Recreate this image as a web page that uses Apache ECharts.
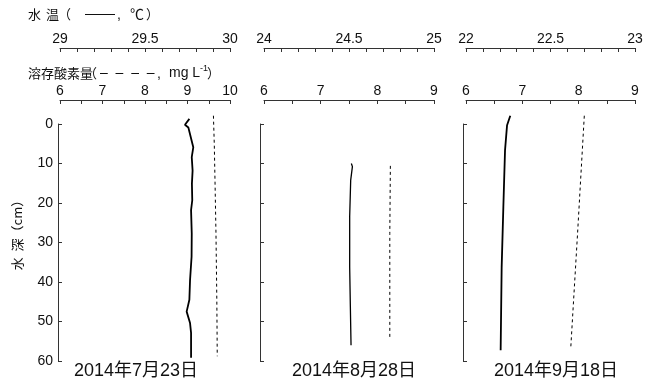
<!DOCTYPE html>
<html>
<head>
<meta charset="utf-8">
<script src="https://cdn.jsdelivr.net/npm/echarts@6/dist/echarts.min.js"></script>
<style>
  html, body { margin: 0; padding: 0; background: #fff; }
  #chart { width: 648px; height: 381px; }
</style>
</head>
<body>
<div id="chart"></div>
<script>
// Depth profiles of water temperature (solid) and dissolved oxygen (dashed)
const dates = ['2014年7月23日', '2014年8月28日', '2014年9月18日'];

// 2014-07-23
const julDepthT = [-1.3, 0.2, 0.9, 5.9, 8.4, 11.8, 15.1, 19.3, 21.8, 27.7, 33.6, 39.5, 44.5, 47.5, 50.4, 52.9, 59.2];
const julTemp   = [29.761, 29.735, 29.755, 29.784, 29.775, 29.780, 29.776, 29.778, 29.771, 29.775, 29.774, 29.765, 29.761, 29.745, 29.765, 29.771, 29.771];
const julDepthDO = [-2.1, 5.0, 16.0, 27.7, 44.5, 58.8];
const julDO      = [9.61, 9.63, 9.65, 9.67, 9.69, 9.70];

// 2014-08-28
const augDepthT = [10.0, 10.8, 14.2, 23.5, 36.2, 46.3, 56.0];
const augTemp   = [24.514, 24.520, 24.510, 24.504, 24.504, 24.508, 24.512];
const augDepthDO = [10.6, 27.7, 53.9];
const augDO      = [8.23, 8.22, 8.22];

// 2014-09-18
const sepDepthT = [-2.1, 0.3, 6.6, 21.0, 36.3, 57.3];
const sepTemp   = [22.262, 22.243, 22.231, 22.221, 22.211, 22.205];
const sepDepthDO = [-2.1, 27.8, 56.6];
const sepDO      = [8.10, 7.98, 7.86];

// axis ranges per panel
const tempRanges = [[29, 30], [24, 25], [22, 23]];
const doRanges   = [[6, 10], [6, 9], [6, 9]];

const panels = [
  { depthT: julDepthT, temp: julTemp, depthDO: julDepthDO, dO: julDO, tw: 1.8 },
  { depthT: augDepthT, temp: augTemp, depthDO: augDepthDO, dO: augDO, tw: 1.3 },
  { depthT: sepDepthT, temp: sepTemp, depthDO: sepDepthDO, dO: sepDO, tw: 1.8 }
];

const FONT = 'Liberation Sans';
const CJK = '"Noto Sans CJK JP", sans-serif';
const MIX = '"Liberation Sans", "Noto Sans CJK JP", sans-serif';
const AX = '#333';

const gridLeft = [60, 264, 466];
const gridWidth = [170, 170, 169];
const gridTop = 124;
const gridHeight = 237;
const yOffset = [2, 4, 3];

const zip = (xs, ys) => xs.map((x, i) => [x, ys[i]]);
const isMult = (v, step) => Math.abs(v / step - Math.round(v / step)) < 1e-6;

const grid = [], xAxis = [], yAxis = [], series = [];

panels.forEach((p, i) => {
  grid.push({ left: gridLeft[i], top: gridTop, width: gridWidth[i], height: gridHeight, containLabel: false });

  const topAxis = (range, interval, labelStep, offset, decimals) => ({
    type: 'value', gridIndex: i, position: 'top', offset: offset,
    min: range[0], max: range[1], interval: interval,
    splitLine: { show: false },
    axisLine: { show: true, onZero: false, lineStyle: { color: AX, width: 1 } },
    axisTick: { show: true, inside: true, length: 4, lineStyle: { color: AX, width: 1 } },
    axisLabel: {
      show: true, margin: 2, fontSize: 14, color: '#111', fontFamily: FONT,
      showMinLabel: true, showMaxLabel: true, hideOverlap: false,
      formatter: v => isMult(v, labelStep) ? String(+v.toFixed(decimals)) : ''
    }
  });
  xAxis.push(topAxis(tempRanges[i], 0.1, 0.5, gridTop - 48, 1));
  xAxis.push(topAxis(doRanges[i], 0.5, 1, gridTop - 100, 0));

  yAxis.push({
    type: 'value', gridIndex: i, inverse: true, min: 0, max: 60, interval: 10,
    offset: yOffset[i],
    splitLine: { show: false },
    axisLine: { show: true, onZero: false, lineStyle: { color: AX, width: 1 } },
    axisTick: { show: true, inside: true, length: 4, lineStyle: { color: AX, width: 1 } },
    axisLabel: { show: i === 0, margin: 5, fontSize: 14, color: '#111', fontFamily: FONT }
  });

  series.push({
    type: 'line', xAxisIndex: 2 * i, yAxisIndex: i, clip: false,
    data: zip(p.temp, p.depthT), symbol: 'none', smooth: false,
    lineStyle: { color: '#000', width: p.tw }
  });
  series.push({
    type: 'line', xAxisIndex: 2 * i + 1, yAxisIndex: i, clip: false,
    data: zip(p.dO, p.depthDO), symbol: 'none', smooth: false,
    lineStyle: { color: '#000', width: 1, type: [3, 3] }
  });
});

// small helper for heading fragments
const t = (x, y, text, font) => ({ type: 'text', x, y,
  style: { text, font, fill: '#111', verticalAlign: 'middle' } });

const dateCenters = [136, 354, 556];
const graphic = [
  // water temperature heading
  t(28, 14, '水', '13px ' + CJK),
  t(46, 14, '温', '13px ' + CJK),
  t(58, 14, '（', '13px ' + CJK),
  t(85, 14, '——', '15px ' + FONT),
  t(117, 15, ',', '14px ' + FONT),
  t(130, 14, '℃', '14px ' + CJK),
  t(146, 14, '）', '13px ' + CJK),
  // dissolved oxygen heading
  t(28, 73, '溶存酸素量', '13px ' + CJK),
  t(84, 73, '（', '13px ' + CJK),
  t(100, 73, '–  –  –  –', '14px ' + FONT),
  t(157, 74, ',', '14px ' + FONT),
  t(169, 73, 'mg L', '14px ' + FONT),
  t(200, 69, '-1', '9px ' + FONT),
  t(207, 73, '）', '13px ' + CJK),
  // depth axis name
  { type: 'text', x: 17, y: 232, rotation: Math.PI / 2,
    style: { text: '水  深（cm）', font: '13px ' + CJK, fill: '#111', align: 'center', verticalAlign: 'middle' } }
];
dates.forEach((d, i) => {
  graphic.push({ type: 'text', x: dateCenters[i], y: 371,
    style: { text: d, font: '18px ' + MIX, fill: '#111', align: 'center', verticalAlign: 'middle' } });
});

const chart = echarts.init(document.getElementById('chart'), null, { renderer: 'canvas' });
chart.setOption({
  animation: false,
  backgroundColor: '#fff',
  grid, xAxis, yAxis, series, graphic
});
</script>
</body>
</html>
